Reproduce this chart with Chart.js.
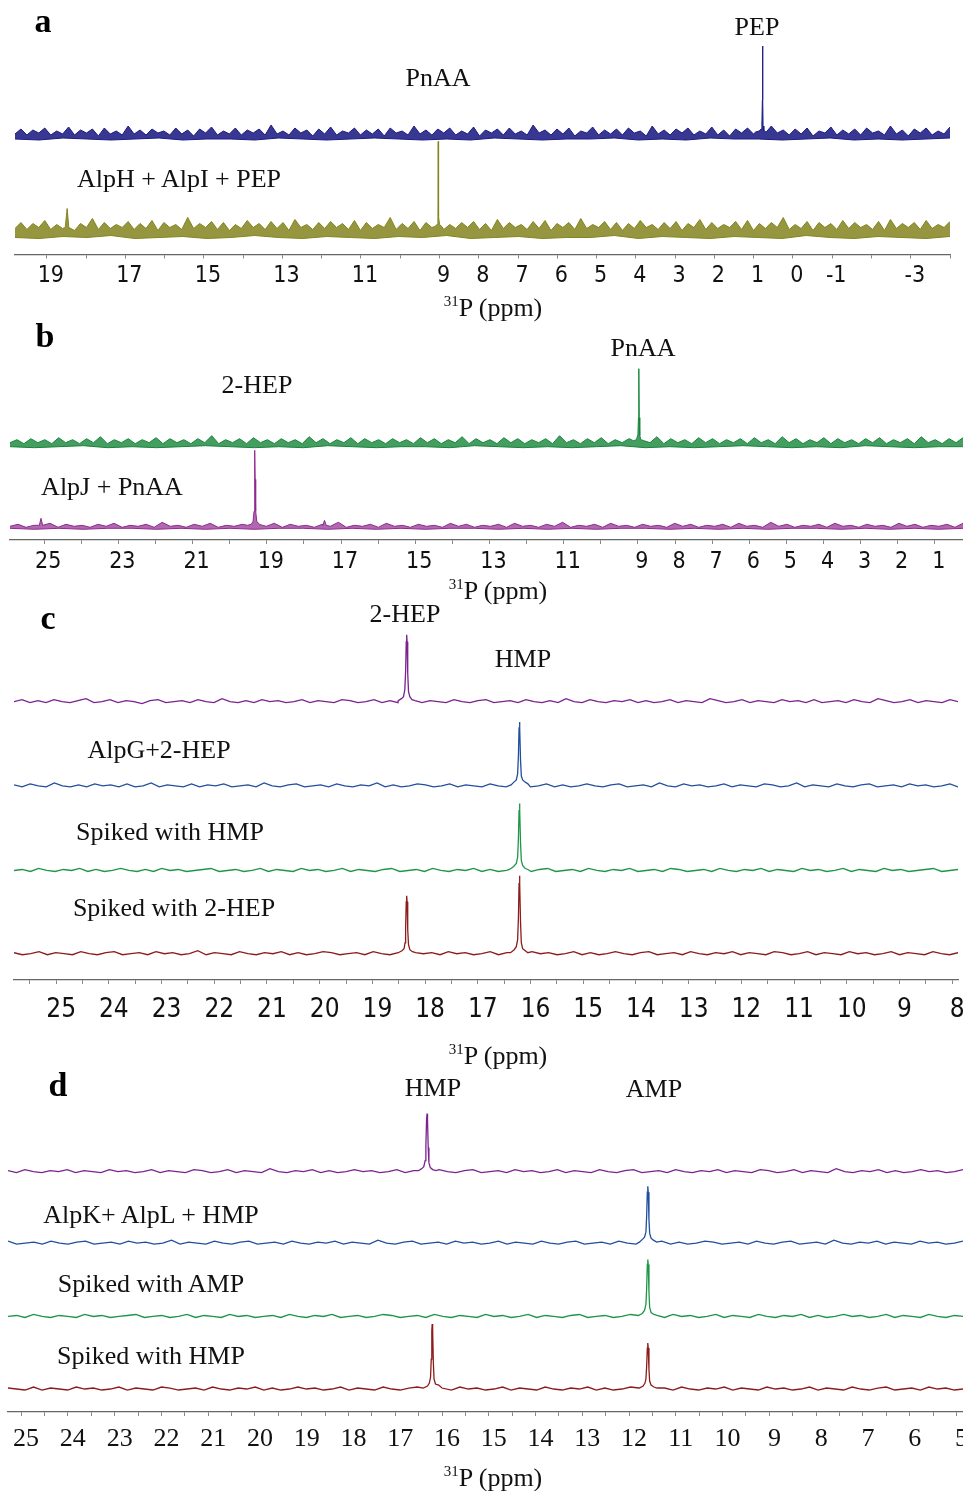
<!DOCTYPE html>
<html><head><meta charset="utf-8">
<script src="https://cdn.jsdelivr.net/npm/chart.js@4/dist/chart.umd.min.js"></script>
<style>
html,body{margin:0;padding:0;background:#fff}
body{width:963px;height:1491px;position:relative;overflow:hidden}
canvas{position:absolute;left:0}
.t{position:absolute;font-family:'Liberation Serif','Times New Roman',serif;font-size:26px;line-height:1;color:#111;white-space:nowrap;transform:translateX(-50%)}
.p{position:absolute;font-family:'Liberation Serif','Times New Roman',serif;font-weight:bold;font-size:34px;line-height:1;color:#000;transform:translateX(-50%)}
.t .s{font-size:15px;position:relative;top:-10px}
</style></head>
<body>
<canvas id="ca" width="963" height="300" style="top:0"></canvas>
<canvas id="cb" width="963" height="265" style="top:320px"></canvas>
<canvas id="cc" width="963" height="450" style="top:590px"></canvas>
<canvas id="cd" width="963" height="417" style="top:1050px"></canvas>

<div class="p" style="left:43px;top:4px">a</div>
<div class="t" style="left:438px;top:65px">PnAA</div>
<div class="t" style="left:757px;top:14px">PEP</div>
<div class="t" style="left:179px;top:166px">AlpH + AlpI + PEP</div>
<div class="t" style="left:493px;top:295px"><span class="s">31</span>P (ppm)</div>

<div class="p" style="left:45px;top:319px">b</div>
<div class="t" style="left:257px;top:372px">2-HEP</div>
<div class="t" style="left:643px;top:335px">PnAA</div>
<div class="t" style="left:112px;top:474px">AlpJ + PnAA</div>
<div class="t" style="left:498px;top:578px"><span class="s">31</span>P (ppm)</div>

<div class="p" style="left:48px;top:601px">c</div>
<div class="t" style="left:405px;top:601px">2-HEP</div>
<div class="t" style="left:523px;top:646px">HMP</div>
<div class="t" style="left:159px;top:737px">AlpG+2-HEP</div>
<div class="t" style="left:170px;top:819px">Spiked with HMP</div>
<div class="t" style="left:174px;top:895px">Spiked with 2-HEP</div>
<div class="t" style="left:498px;top:1043px"><span class="s">31</span>P (ppm)</div>

<div class="p" style="left:58px;top:1068px">d</div>
<div class="t" style="left:433px;top:1075px">HMP</div>
<div class="t" style="left:654px;top:1076px">AMP</div>
<div class="t" style="left:151px;top:1202px">AlpK+ AlpL + HMP</div>
<div class="t" style="left:151px;top:1271px">Spiked with AMP</div>
<div class="t" style="left:151px;top:1343px">Spiked with HMP</div>
<div class="t" style="left:493px;top:1465px"><span class="s">31</span>P (ppm)</div>

<script>
// ---------- tick labels (ppm) ----------
const labelsA = [19,17,15,13,11,9,8,7,6,5,4,3,2,1,0,-1,-3];
const labelsB = [25,23,21,19,17,15,13,11,9,8,7,6,5,4,3,2,1];
const labelsC = [25,24,23,22,21,20,19,18,17,16,15,14,13,12,11,10,9,8];
const labelsD = [25,24,23,22,21,20,19,18,17,16,15,14,13,12,11,10,9,8,7,6,5];

// ---------- peaks: [ppm, intensity] ----------
// panel a
const peakA_PEP   = [[0.95,8],[0.86,9],[0.81,11],[0.79,16],[0.778,40],[0.772,94],[0.766,40],[0.76,14],[0.74,9],[0.68,8]];
const peakA_PnAA  = [[9.12,12],[9.06,14],[9.04,22],[9.033,97],[9.027,97],[9.02,22],[9.0,14],[8.94,12]];
const peakA_spike = [[18.53,11],[18.482,30],[18.44,11]];
// panel b
const peakB_PnAA  = [[9.12,7],[9.04,8],[9.0,13],[8.985,30],[8.975,79],[8.965,30],[8.95,12],[8.92,8],[8.84,7]];
const peakB_2HEP  = [[19.52,4],[19.42,5],[19.37,8],[19.345,18],[19.33,50],[19.322,79],[19.314,50],[19.30,18],[19.27,8],[19.2,5],[19.12,4]];
const peakB_s1    = [[25.13,4],[25.085,11],[25.04,4]];
const peakB_s2    = [[17.49,4],[17.445,9],[17.40,4]];
// panel c
const peakC_2HEP_top = [[18.51,1],[18.45,3],[18.41,5],[18.385,12],[18.37,30],[18.358,60],[18.35,67],[18.342,60],[18.33,28],[18.315,10],[18.29,5],[18.25,2],[18.19,1]];
const peakC_HMP_blue = [[16.37,1],[16.31,4],[16.27,6],[16.245,12],[16.23,30],[16.218,58],[16.21,64],[16.202,58],[16.19,26],[16.175,10],[16.15,6],[16.11,4],[16.05,2]];
const peakC_HMP_grn  = [[16.40,1],[16.32,4],[16.27,7],[16.245,13],[16.23,32],[16.218,60],[16.21,67],[16.202,60],[16.19,28],[16.175,10],[16.15,5],[16.10,2],[16.05,1]];
const peakC_2HEP_red = [[18.51,1],[18.44,3],[18.40,5],[18.38,11],[18.37,26],[18.358,52],[18.35,58],[18.342,52],[18.33,24],[18.315,9],[18.29,4],[18.24,2],[18.18,1]];
const peakC_HMP_red  = [[16.38,1],[16.31,4],[16.27,7],[16.245,14],[16.23,36],[16.218,70],[16.21,78],[16.202,70],[16.19,32],[16.175,11],[16.15,5],[16.10,3],[16.05,1]];
// panel d
const peakD_HMP_top  = [[16.50,1],[16.43,3],[16.39,5],[16.36,11],[16.345,26],[16.33,52],[16.32,58],[16.31,52],[16.295,24],[16.28,9],[16.25,4],[16.20,2],[16.13,1]];
const peakD_AMP_blue = [[11.78,1],[11.71,4],[11.67,6],[11.64,11],[11.625,26],[11.61,51],[11.60,57],[11.59,51],[11.575,24],[11.56,10],[11.53,5],[11.48,3],[11.41,1]];
const peakD_AMP_grn  = [[11.80,1],[11.72,3],[11.67,6],[11.64,12],[11.625,27],[11.61,52],[11.60,57],[11.59,52],[11.575,25],[11.56,9],[11.53,4],[11.47,2],[11.40,1]];
const peakD_HMP_red  = [[16.40,1],[16.31,3],[16.27,6],[16.245,12],[16.23,30],[16.218,58],[16.21,65],[16.20,58],[16.185,26],[16.17,10],[16.14,5],[16.07,4],[16.0,1]];
const peakD_AMP_red  = [[11.78,1],[11.70,3],[11.66,6],[11.64,10],[11.625,22],[11.61,41],[11.60,46],[11.59,41],[11.575,20],[11.56,8],[11.53,4],[11.47,2],[11.40,1]];

// ---------- baseline noise (intensity) ----------
// dense spectra (a, b): upper and lower edges of the noise band
const noiseA_blueTop = [6,11,5,10,7,12,5,9,6,13,5,10,7,11,4,12,6,9,5,14,6,10,5,11,7,9,5,12,6,10,4,11,7,13,5,9,6,12,5,10,7,11,5,15,6,9,5,12,7,10,4,11,6,13,5,9,7,12,5,10,6,11,4,12,7,9,5,14,6,10,5,11,7,12,5,9,6,13,4,10,7,11,5,12,6,9,5,15,7,10,5,11,6,12,4,9,7,13,5,10,6,11,5,12,7,9,4,14,6,10,5,11,7,12,5,9,6,13,5,10,4,11,7,12,6,9,5,14,7,10,5,11,6,12,4,9,7,13,5,10,6,11,5,12,7,9,5,14,6,10,4,11,7,12,5,9,6,13];
const noiseA_blueBot = [1,0,2,1,0,1,2,0,1,1,0,2,1,0,1,2,1,0,1,0,2,1,0,1,1,2,0,1,0,2,1,1,0,1,2,0,1,0,1,2];
const noiseA_oliveTop = [10,16,9,15,11,18,9,14,10,17,8,15,11,20,9,16,10,14,11,17,9,15,10,18,8,16,11,14,9,21,10,15,11,17,9,16,8,14,10,18,11,15,9,17,10,16,8,19,11,14,9,16,10,17,11,15,9,18,8,16,10,14,11,21,9,15,10,17,8,16,11,18,9,14,10,16,11,17,9,15,8,19,10,16,11,14,9,17,10,18,8,15,11,16,9,20,10,14,11,17,9,16,8,15,10,18,11,14,9,16,10,17,8,15,11,19,9,16,10,14,11,17,9,18,8,15,10,16,11,21,9,14,10,17,8,16,11,15,9,18,10,16,11,14,9,17,8,19,10,15,11,16,9,18,10,14,11,17];
const noiseA_oliveBot = [1,0,2,1,3,0,1,2,0,1,3,1,0,2,1,0,2,1,3,0,1,2,0,1,1,3,0,2,1,0,2,1,0,3,1,0,2,1,0,2];
const noiseB_greenTop = [5,8,4,9,5,8,4,10,5,8,4,9,5,11,4,8,5,9,4,8,5,10,4,9,5,8,4,9,5,12,4,8,5,9,4,10,5,8,4,9,5,8,4,11,5,9,4,8,5,10,4,9,5,8,4,9,5,8,4,10,5,9,4,8,5,11,4,9,5,8,4,10,5,9,4,8,5,9,4,12,5,8,4,9,5,10,4,8,5,9,4,8,5,11,4,9,5,8,4,10,5,9,4,8,5,9,4,10,5,8,4,11,5,9,4,8,5,10,4,9,5,8,4,9,5,10,4,8,5,9,4,11,5,8,4,9,5,10];
const noiseB_greenBot = [1,0,1,2,0,1,0,1,2,1,0,1,0,2,1,0,1,1,0,2,1,0,1,0,1,2,0,1,0,1,2,1,0,1,0,2,1,0,1,1];
const noiseB_magTop = [3,5,2,4,3,6,2,5,3,4,2,5,3,6,2,4,3,5,2,7,3,4,2,5,3,6,2,4,3,5,2,4,3,6,2,5,3,4,2,5,3,7,2,4,3,5,2,6,3,4,2,5,3,4,2,6,3,5,2,4,3,5,2,6,3,4,2,5,3,7,2,4,3,5,2,6,3,4,2,5,3,4,2,6,3,5,2,4,3,5,2,6,3,4,2,7,3,5,2,4,3,5,2,6,3,4,2,5,3,4,2,6,3,5,2,4,3,5,2,6];
const noiseB_magBot = [1,0,1,0,1,1,0,1,0,1,0,1,1,0,1,0,1,0,1,1,0,1,0,1,0,1,1,0,1,0,1,0,1,1,0,1,0,1,0,1];
// sparse spectra (c, d)
const noiseC_purple = [0,2,-1,1,-1,2,0,-1,1,3,-1,0,2,-1,1,0,-2,1,2,-1,0,1,-1,2,0,-1,3,0,-1,1,-1,2,0,1,-1,0,2,-1,1,0,-1,2,1,-1,0,2,-1,1,-1,0,3,-1,1,0,-1,2,0,-1,1,2,-1,0,1,-1,2,0,-1,1,-1,3,0,-1,2,0,-1,1,0,2,-1,1,-1,0,2,-1,1,0,-1,3,1,-1,0,2,-1,1,0,-1,2,0,1,-1,2,-1,0,1,-1,2,0,-1,3,1,-1,0,2,-1,1,0,-1,2,0];
const noiseC_blue = [1,-1,2,0,-1,3,0,-1,1,-1,2,0,1,-1,2,-1,0,3,-1,1,0,-1,2,-1,1,0,2,-1,0,1,-1,3,0,-1,1,2,-1,0,1,-1,2,0,-1,1,0,3,-1,1,-1,0,2,1,-1,0,2,-1,1,0,-1,2,0,-1,3,1,-1,0,2,-1,1,-1,0,2,0,-1,1,2,-1,0,1,-1,3,0,-1,2,0,1,-1,0,2,-1,1,0,-1,2,1,-1,0,3,-1,1,0,-1,2,0,-1,1,2,-1,0,1,-1,2,0,1,-1,0,2,-1];
const noiseC_green = [0,1,-1,2,0,-1,1,0,2,-1,1,-1,0,2,0,-1,1,-1,2,0,1,-1,0,1,2,-1,0,1,-1,0,2,-1,1,0,-1,2,0,1,-1,0,2,-1,1,0,-1,1,2,-1,0,1,-1,2,0,-1,1,0,2,-1,1,-1,0,2,0,-1,1,2,-1,0,1,-1,2,0,-1,1,0,2,-1,0,1,-1,2,1,-1,0,1,-1,2,0,-1,1,0,2,-1,1,0,-1,2,0,1,-1,0,2,-1,1,0,-1,2,0,1,-1,0,1,2,-1,0,1];
const noiseC_red = [1,-1,0,2,-1,1,0,-1,2,0,-1,1,2,-1,0,1,-1,2,0,1,-1,0,3,-1,1,0,-1,2,0,-1,1,0,2,-1,1,-1,0,2,1,-1,0,1,-1,2,0,-1,1,2,-1,0,1,-1,2,0,1,-1,0,2,-1,1,0,-1,2,0,1,-1,0,2,-1,1,-1,0,2,0,-1,1,2,-1,0,1,-1,2,0,-1,1,0,2,-1,1,0,-1,2,1,-1,0,2,-1,1,0,-1,2,0,1,-1,0,2,-1,1,0,-1,2,0,-1,1];
const noiseD_purple = [1,-1,2,0,-1,1,0,2,-1,1,0,-1,2,0,1,-1,0,2,-1,1,0,-1,2,1,-1,0,2,-1,1,0,-1,3,0,-1,1,0,2,-1,1,-1,0,2,0,1,-1,0,2,-1,1,0,-1,2,0,-1,1,2,-1,0,1,-1,2,0,1,-1,0,2,-1,1,0,-1,2,0,-1,1,2,-1,0,1,-1,2,0,-1,1,0,2,-1,1,0,-1,2,1,-1,0,2,-1,1,0,-1,3,0,-1,1,0,2,-1,1,-1,0,2,0,1,-1,0,2];
const noiseD_blue = [2,-1,0,1,-1,2,0,-1,1,2,-1,0,1,-1,2,0,1,-1,0,3,-1,1,0,-1,2,0,-1,1,2,-1,0,1,-1,2,0,-1,1,0,2,-1,1,0,-1,3,0,-1,1,2,-1,0,1,-1,2,0,1,-1,0,2,-1,1,0,-1,2,0,-1,1,2,-1,0,1,-1,2,0,-1,1,0,2,-1,1,-1,0,2,1,-1,0,1,-1,2,0,-1,1,2,-1,0,1,-1,3,0,-1,1,0,2,-1,1,0,-1,2,0,1,-1,0,2];
const noiseD_green = [0,1,-1,2,0,-1,1,0,-1,2,0,1,-1,0,1,2,-1,0,1,-1,0,2,-1,1,0,-1,2,0,1,-1,0,1,-1,2,0,-1,1,0,2,-1,0,1,-1,0,2,1,-1,0,1,-1,2,0,-1,1,0,-1,2,0,1,-1,0,2,-1,1,0,-1,1,2,-1,0,1,-1,0,2,0,-1,1,-1,2,0,1,-1,0,2,-1,1,0,-1,2,0,-1,1,0,2,-1,1,-1,0,2,0,1,-1,0,2,-1,1,0,-1,2,0,-1,1,0];
const noiseD_red = [1,0,-1,2,-1,1,0,-1,2,0,1,-1,0,2,-1,1,0,-1,2,1,-1,0,1,-1,2,0,-1,1,0,2,-1,1,-1,0,2,0,1,-1,0,2,-1,1,0,-1,2,0,-1,1,2,-1,0,1,-1,2,0,1,-1,0,2,-1,1,0,-1,2,0,-1,1,0,2,-1,1,-1,0,2,1,-1,0,1,-1,2,0,-1,1,0,2,-1,1,0,-1,2,0,1,-1,0,2,-1,1,0,-1,2,0,-1,1,2,-1,0,1,-1,2,0,1,-1,0];

// ---------- helpers ----------
function buildTrace(noise, peaks, xmin, xmax, offset) {
  const spans = peaks.map(p => [Math.min(...p.map(q => q[0])), Math.max(...p.map(q => q[0]))]);
  const pts = [];
  const n = noise.length;
  for (let i = 0; i < n; i++) {
    const x = xmax - i * (xmax - xmin) / (n - 1);
    if (spans.some(s => x >= s[0] && x <= s[1])) continue;
    pts.push({x: x, y: noise[i] + offset});
  }
  peaks.forEach(p => p.forEach(q => pts.push({x: q[0], y: q[1] + offset})));
  pts.sort((a, b) => b.x - a.x);
  return pts;
}
function range(a, b, step) { const r = []; for (let v = a; v <= b + 1e-9; v += step) r.push(Math.round(v * 10) / 10); return r; }

function makePanel(id, c) {
  const plotH = c.height - c.axisH;
  const datasets = [];
  c.traces.forEach(t => {
    if (t.lower) {
      datasets.push({
        data: buildTrace(t.noise, t.peaks, c.xmin, c.xmax, t.offset),
        borderColor: t.color, borderWidth: t.width || 1, pointRadius: 0, tension: 0,
        fill: '+1', backgroundColor: t.fillColor
      });
      datasets.push({
        data: buildTrace(t.lower, [], c.xmin, c.xmax, t.offset),
        borderColor: t.color, borderWidth: 1, pointRadius: 0, tension: 0, fill: false
      });
    } else {
      datasets.push({
        data: buildTrace(t.noise, t.peaks, c.xmin, c.xmax, t.offset),
        borderColor: t.color, borderWidth: t.width || 1, pointRadius: 0, tension: 0, fill: false
      });
    }
  });
  new Chart(document.getElementById(id), {
    type: 'line',
    data: {datasets: datasets},
    options: {
      responsive: false, animation: false, devicePixelRatio: 1,
      layout: {padding: {left: c.padL, right: c.padR, top: 0, bottom: 0}},
      plugins: {legend: {display: false}, tooltip: {enabled: false}},
      scales: {
        x: {
          type: 'linear', reverse: true, min: c.xmin, max: c.xmax, position: 'bottom',
          afterBuildTicks: s => { s.ticks = c.tickVals.map(v => ({value: v})); },
          afterFit: s => { s.height = c.axisH; s.paddingLeft = 0; s.paddingRight = 0; },
          border: {display: true, color: '#666', width: 1.3},
          grid: {display: true, drawOnChartArea: false, drawTicks: true, tickLength: c.tickLen, color: '#888', lineWidth: 1},
          ticks: {
            autoSkip: false, maxRotation: 0, minRotation: 0, padding: c.tickPad, labelOffset: c.labelOffset,
            color: '#111', font: c.font,
            callback: v => c.labels.includes(v) ? String(v) : ''
          }
        },
        y: {display: false, min: 0, max: plotH}
      }
    }
  });
}

const sansTick = "'DejaVu Sans Condensed','DejaVu Sans',sans-serif";

// panel a
makePanel('ca', {
  height: 300, axisH: 45.5, padL: 15, padR: 13, xmin: -4.0, xmax: 19.81,
  tickVals: range(-4, 19, 1), labels: labelsA, labelOffset: 4, tickLen: 4, tickPad: 4,
  font: {family: sansTick, size: 23},
  traces: [
    {noise: noiseA_blueTop, lower: noiseA_blueBot, peaks: [peakA_PEP], offset: 114.5, color: '#1c1c84', fillColor: 'rgba(28,28,132,0.88)'},
    {noise: noiseA_oliveTop, lower: noiseA_oliveBot, peaks: [peakA_PnAA, peakA_spike], offset: 16, color: '#84841e', fillColor: 'rgba(132,132,30,0.85)'}
  ]
});
// panel b
makePanel('cb', {
  height: 265, axisH: 45, padL: 10, padR: 0, xmin: 0.24, xmax: 25.92,
  tickVals: range(1, 25, 1), labels: labelsB, labelOffset: 4, tickLen: 4, tickPad: 4,
  font: {family: sansTick, size: 23},
  traces: [
    {noise: noiseB_greenTop, lower: noiseB_greenBot, peaks: [peakB_PnAA], offset: 92.3, color: '#17853a', fillColor: 'rgba(23,133,58,0.8)'},
    {noise: noiseB_magTop, lower: noiseB_magBot, peaks: [peakB_2HEP, peakB_s1, peakB_s2], offset: 10.7, color: '#8e2a8e', fillColor: 'rgba(142,42,142,0.7)'}
  ]
});
// panel c
makePanel('cc', {
  height: 450.3, axisH: 60, padL: 14, padR: 5, xmin: 7.89, xmax: 25.8,
  tickVals: range(8, 25.5, 0.5), labels: labelsC, labelOffset: 5, tickLen: 4, tickPad: 11,
  font: {family: sansTick, size: 26},
  traces: [
    {noise: noiseC_purple, peaks: [peakC_2HEP_top], offset: 278.6, color: '#7b2290', width: 1.3},
    {noise: noiseC_blue, peaks: [peakC_HMP_blue], offset: 194.3, color: '#1f4f9e', width: 1.3},
    {noise: noiseC_green, peaks: [peakC_HMP_grn], offset: 109.6, color: '#1f9647', width: 1.3},
    {noise: noiseC_red, peaks: [peakC_2HEP_red, peakC_HMP_red], offset: 26.3, color: '#8c1c1c', width: 1.3}
  ]
});
// panel d
makePanel('cd', {
  height: 417.3, axisH: 55, padL: 8, padR: 0, xmin: 4.86, xmax: 25.28,
  tickVals: range(5, 25, 0.5), labels: labelsD, labelOffset: 5, tickLen: 4, tickPad: 8,
  font: {family: "'Liberation Serif','Times New Roman',serif", size: 26},
  traces: [
    {noise: noiseD_purple, peaks: [peakD_HMP_top], offset: 240.6, color: '#7b2290', width: 1.3},
    {noise: noiseD_blue, peaks: [peakD_AMP_blue], offset: 169, color: '#1f4f9e', width: 1.3},
    {noise: noiseD_green, peaks: [peakD_AMP_grn], offset: 95.6, color: '#1f9647', width: 1.3},
    {noise: noiseD_red, peaks: [peakD_HMP_red, peakD_AMP_red], offset: 23, color: '#8c1c1c', width: 1.3}
  ]
});
</script>
</body></html>
